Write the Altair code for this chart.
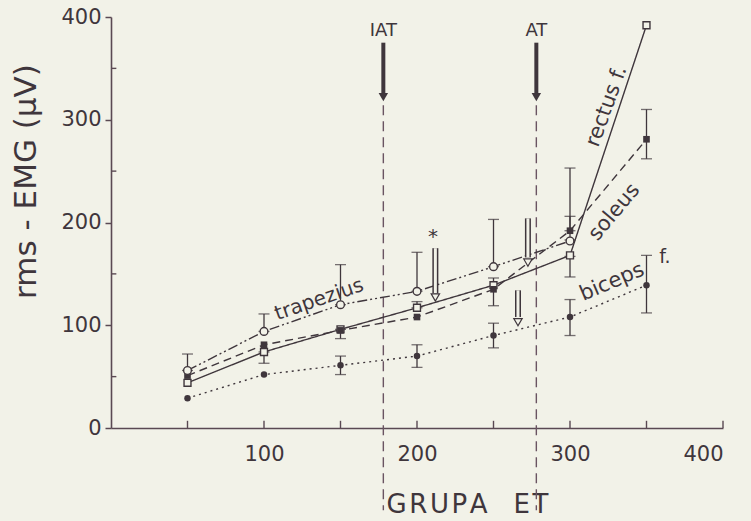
import altair as alt
import pandas as pd

# ---------------- data ----------------
x_vals = [50, 100, 150, 200, 250, 300, 350]
rectus = [44, 74, 96, 117, 139, 168, 392]
soleus = [51, 81, 95, 108, 135, 192, 281]
trapezius = [56, 94, 120, 133, 157, 182, None]
biceps = [29, 52, 61, 70, 90, 108, 139]

err_x = [50, 100, 100, 150, 150, 150, 200, 200, 200, 250, 250, 250, 300, 300, 300, 300, 350, 350]
err_lo = [56, 94, 63, 120, 87, 52, 133, 117, 59, 157, 119, 78, 192, 183, 147, 90, 262, 112]
err_hi = [72, 111, 74, 159, 96, 70, 171, 123, 81, 203, 146, 102, 253, 206, 167, 125, 310, 168]

x_tick_labels = [100, 200, 300, 400]
y_tick_labels = [0, 100, 200, 300, 400]
x_minor = [50, 100, 150, 200, 250, 300, 350, 400]
y_minor = [50, 150, 250, 350]

thresholds = ["IAT", "AT"]
threshold_x = [178, 278]

BG = "#f2f2e8"
INK = "#3f363c"
AXC = "#5a4953"
DASHC = "#6a5462"
FONT = "DejaVu Sans"
HS = "\u200a"

xs = alt.Scale(domain=[0, 400], nice=False, zero=False)
ys = alt.Scale(domain=[0, 400], nice=False, zero=False)

series = {
    "rectus": rectus,
    "soleus": soleus,
    "trapezius": trapezius,
    "biceps": biceps,
}
styles = {
    "rectus": dict(dash=[1, 0], shape="square", filled=False, size=48),
    "soleus": dict(dash=[8, 5], shape="square", filled=True, size=44),
    "trapezius": dict(dash=[10, 3, 2, 3, 2, 3], shape="circle", filled=False, size=60),
    "biceps": dict(dash=[2, 4], shape="circle", filled=True, size=42),
}

base_x = alt.X("x:Q", scale=xs, axis=alt.Axis(
    values=x_tick_labels, ticks=False, grid=False, domainColor=AXC, domainWidth=1.6,
    labelFont=FONT, labelFontSize=21, labelColor=INK, labelPadding=15,
    title=HS.join("GRUPA") + "\u2003" + HS.join("ET"), titleFont=FONT, titleFontSize=26,
    titleFontWeight="normal",
    titleColor=INK, titleX=356, titleY=84, titleBaseline="alphabetic",
    titleAnchor="middle", titleAlign="center"))
base_y = alt.Y("y:Q", scale=ys, axis=alt.Axis(
    values=y_tick_labels, grid=False, domainColor=AXC, domainWidth=1.6,
    tickColor=AXC, tickSize=6, tickWidth=1.5,
    labelFont=FONT, labelFontSize=21, labelColor=INK, labelPadding=4,
    title="rms - EMG (μV)", titleFont=FONT, titleFontSize=31, titleFontWeight="normal",
    titleColor=INK, titleX=-76, titleY=164, titleAngle=-90, titleBaseline="alphabetic",
    titleAlign="center"))

layers = []

# axis frame (carries the axes)
frame = alt.Chart(pd.DataFrame({"x": [0], "y": [0]})).mark_point(opacity=0).encode(x=base_x, y=base_y)
layers.append(frame)

# minor ticks
xt = pd.DataFrame({"x": x_minor, "y": [0] * len(x_minor), "y2": [7] * len(x_minor)})
layers.append(alt.Chart(xt).mark_rule(color=AXC, strokeWidth=1.4).encode(
    x=alt.X("x:Q", scale=xs), y=alt.Y("y:Q", scale=ys), y2="y2:Q"))
yt = pd.DataFrame({"y": y_minor, "x": [0] * len(y_minor), "x2": [3.5] * len(y_minor)})
layers.append(alt.Chart(yt).mark_rule(color=AXC, strokeWidth=1.4).encode(
    y=alt.Y("y:Q", scale=ys), x=alt.X("x:Q", scale=xs), x2="x2:Q"))

# threshold dashed lines
th = pd.DataFrame({"x": threshold_x, "label": thresholds,
                   "top": [314, 314], "bot": [-80, -80],
                   "a_top": [375, 375], "a_bot": [326, 326], "head": [322, 322], "ty": [386, 386]})
layers.append(alt.Chart(th).mark_rule(color=DASHC, strokeWidth=1.4, strokeDash=[10, 6]).encode(
    x=alt.X("x:Q", scale=xs), y=alt.Y("top:Q", scale=ys), y2="bot:Q"))
layers.append(alt.Chart(th).mark_rule(color=INK, strokeWidth=4).encode(
    x=alt.X("x:Q", scale=xs), y=alt.Y("a_top:Q", scale=ys), y2="a_bot:Q"))
layers.append(alt.Chart(th).mark_point(shape="triangle-down", filled=True, color=INK, size=90, opacity=1).encode(
    x=alt.X("x:Q", scale=xs), y=alt.Y("head:Q", scale=ys)))
layers.append(alt.Chart(th).mark_text(font=FONT, fontSize=18, color=INK, baseline="middle").encode(
    x=alt.X("x:Q", scale=xs), y=alt.Y("ty:Q", scale=ys), text="label:N"))

# series lines
for name, vals in series.items():
    d = pd.DataFrame({"x": x_vals, "y": vals}).dropna()
    st = styles[name]
    layers.append(alt.Chart(d).mark_line(color=INK, strokeWidth=1.4, strokeDash=st["dash"]).encode(
        x=alt.X("x:Q", scale=xs), y=alt.Y("y:Q", scale=ys)))

# error bars
ed = pd.DataFrame({"x": err_x, "lo": err_lo, "hi": err_hi})
layers.append(alt.Chart(ed).mark_rule(color=INK, strokeWidth=1.3).encode(
    x=alt.X("x:Q", scale=xs), y=alt.Y("lo:Q", scale=ys), y2="hi:Q"))
for col in ["lo", "hi"]:
    layers.append(alt.Chart(ed).mark_tick(color=INK, orient="horizontal", size=11, thickness=1.3).encode(
        x=alt.X("x:Q", scale=xs), y=alt.Y(f"{col}:Q", scale=ys)))

# markers
for name, vals in series.items():
    d = pd.DataFrame({"x": x_vals, "y": vals}).dropna()
    st = styles[name]
    if st["filled"]:
        mk = alt.Chart(d).mark_point(shape=st["shape"], filled=True, color=INK, size=st["size"], opacity=1)
    else:
        mk = alt.Chart(d).mark_point(shape=st["shape"], filled=True, fill=BG, stroke=INK,
                                     strokeWidth=1.4, size=st["size"], opacity=1)
    layers.append(mk.encode(x=alt.X("x:Q", scale=xs), y=alt.Y("y:Q", scale=ys)))

# hollow arrows
hollow_x = [212, 272.5, 266]
hollow_top = [175, 204, 134]
hollow_bot = [131, 166, 108]
hollow_head = [127, 161, 103]
ha = pd.DataFrame({"x": hollow_x, "top": hollow_top, "bot": hollow_bot, "head": hollow_head})
layers.append(alt.Chart(ha).mark_rule(color=INK, strokeWidth=6).encode(
    x=alt.X("x:Q", scale=xs), y=alt.Y("top:Q", scale=ys), y2="bot:Q"))
layers.append(alt.Chart(ha).mark_rule(color=BG, strokeWidth=3).encode(
    x=alt.X("x:Q", scale=xs), y=alt.Y("top:Q", scale=ys), y2="bot:Q"))
layers.append(alt.Chart(ha).mark_point(shape="triangle-down", filled=True, fill=BG, stroke=INK,
                                       strokeWidth=1.2, size=70, opacity=1).encode(
    x=alt.X("x:Q", scale=xs), y=alt.Y("head:Q", scale=ys)))

# annotations (labels)
ann_text = ["trapezius", "rectus f.", "soleus", "biceps", "f.", "*"]
ann_x = [136, 324, 329, 327.5, 362, 210.5]
ann_y = [125, 313, 210, 142, 166, 186]
ann_angle = [341, 290, 310, 337, 0, 0]
ann_size = [20, 21, 21, 21, 19, 20]
an = pd.DataFrame({"x": ann_x, "y": ann_y, "text": ann_text, "angle": ann_angle, "size": ann_size})
for _, r in an.iterrows():
    layers.append(alt.Chart(pd.DataFrame([r])).mark_text(
        font=FONT, fontSize=float(r["size"]), color=INK, angle=float(r["angle"]),
        align="center", baseline="middle").encode(
        x=alt.X("x:Q", scale=xs), y=alt.Y("y:Q", scale=ys), text="text:N"))

chart = alt.layer(*layers).properties(
    width=612, height=411,
    autosize=alt.AutoSizeParams(type="none"),
    padding={"left": 111, "top": 17, "right": 28, "bottom": 93},
    background=BG,
).configure_view(stroke=None)

chart.save("out.html", embed_options={"renderer": "svg", "actions": False})
